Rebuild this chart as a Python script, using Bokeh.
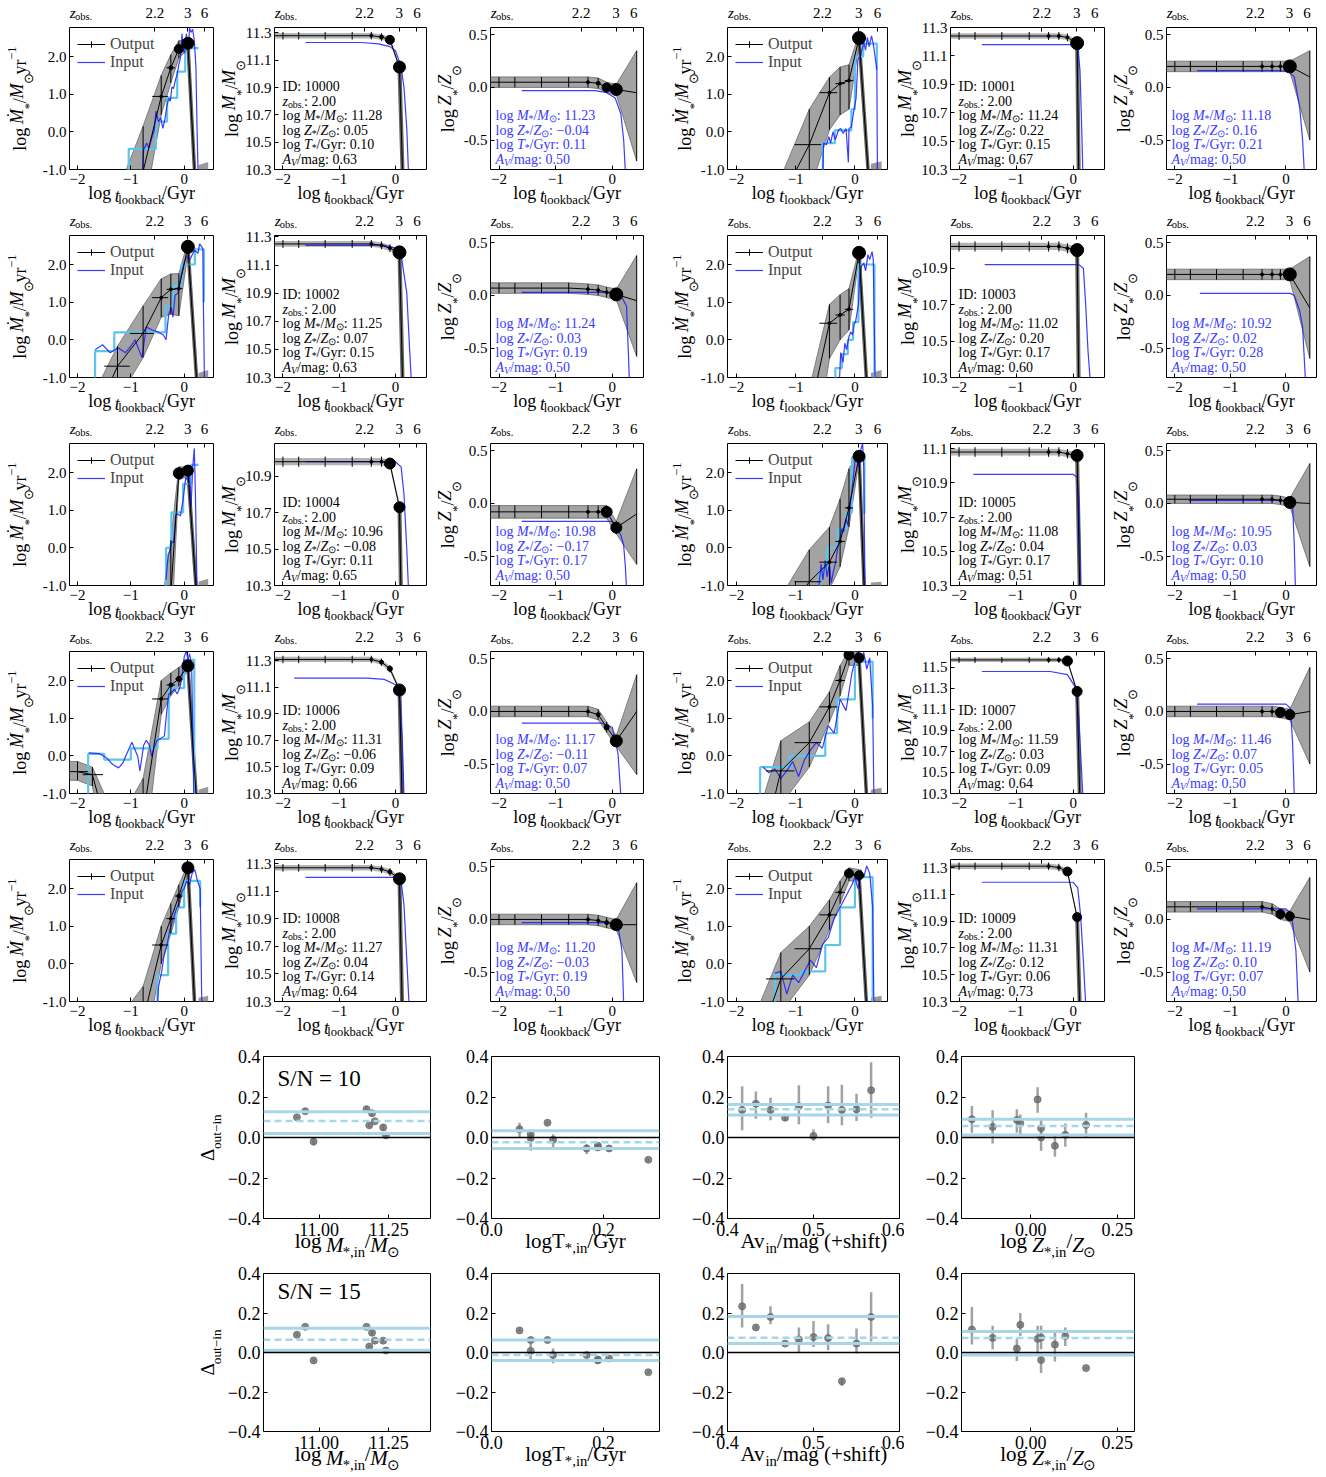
import math
from bokeh.plotting import figure
from bokeh.layouts import column, row
from bokeh.models import (Range1d, FixedTicker, LinearAxis, Label,
                          Legend, LegendItem, Spacer, Span)
from bokeh.embed import file_html
from bokeh.resources import INLINE

SERIF = "Liberation Serif"

# ---------------------------------------------------------------- data (top)
IDS = [10000, 10001, 10002, 10003, 10004, 10005, 10006, 10007, 10008, 10009]
Z_OBS = [2.00, 2.00, 2.00, 2.00, 2.00, 2.00, 2.00, 2.00, 2.00, 2.00]
OUT_M = [11.28, 11.24, 11.25, 11.02, 10.96, 11.08, 11.31, 11.59, 11.27, 11.31]
OUT_Z = [0.05, 0.22, 0.07, 0.20, -0.08, 0.04, -0.06, 0.03, 0.04, 0.12]
OUT_T = [0.10, 0.15, 0.15, 0.17, 0.11, 0.17, 0.09, 0.09, 0.14, 0.06]
OUT_AV = [0.63, 0.67, 0.63, 0.60, 0.65, 0.51, 0.66, 0.64, 0.64, 0.73]
IN_M = [11.23, 11.18, 11.24, 10.92, 10.98, 10.95, 11.17, 11.46, 11.20, 11.19]
IN_Z = [-0.04, 0.16, 0.03, 0.02, -0.17, 0.03, -0.11, 0.07, -0.03, 0.10]
IN_T = [0.11, 0.21, 0.19, 0.28, 0.17, 0.10, 0.07, 0.05, 0.19, 0.07]
IN_AV = [0.50, 0.50, 0.50, 0.50, 0.50, 0.50, 0.50, 0.50, 0.50, 0.50]

X_TICKS = [-2, -1, 0]
X_TICK_LABELS = ["\u22122", "\u22121", "0"]
Z_TICK_T = [-0.55, 0.065, 0.38]
Z_TICK_LABELS = ["2.2", "3", "6"]
SFR_YTICKS = [-1.0, 0.0, 1.0, 2.0]
MASS_YTICKS = [10.3, 10.5, 10.7, 10.9, 11.1, 11.3, 11.5]
Z_YTICKS = [-0.5, 0.0, 0.5]

T_OUT = [-2.0, -1.72, -1.25, -0.77, -0.43, -0.25, -0.10, 0.07]
T_ERR_L = [-2.15, -1.9, -1.5, -1.02, -0.6, -0.33, -0.17, -0.02]
T_ERR_R = [-1.8, -1.52, -1.02, -0.57, -0.3, -0.17, -0.03, 0.16]

SFR_MED = [
    [-4.0, -3.5, -2.5, -1.05, 0.94, 1.70, 2.20, 2.35],
    [-3.5, -3.0, -1.8, -0.34, 1.04, 1.28, 1.36, 2.49],
    [-3.0, -2.2, -0.70, 0.17, 1.12, 1.34, 1.36, 2.47],
    [-4.0, -3.5, -3.0, -2.0, 0.44, 0.66, 0.81, 2.31],
    [-5.0, -5.0, -4.5, -4.0, -3.0, -1.2, 1.98, 2.05],
    [-4.0, -3.5, -2.0, -0.9, -0.38, 0.17, 1.06, 2.43],
    [-0.42, -0.50, -3.0, -1.6, 1.51, 1.88, 2.04, 2.39],
    [-4.0, -3.5, -0.40, 0.35, 1.30, 2.00, 2.68, 2.60],
    [-4.0, -3.5, -2.5, -1.5, 0.50, 1.20, 1.80, 2.55],
    [-3.0, -2.5, -0.40, 0.40, 1.30, 1.90, 2.40, 2.35],
]
SFR_LO = [
    [-6, -6, -5, -2.2, 0.45, 1.3, 1.95, 2.2],
    [-6, -6, -4, -1.6, 0.05, 0.45, 0.6, 2.3],
    [-6, -5, -1.6, -0.47, 0.6, 0.68, 0.64, 2.3],
    [-6, -6, -6, -4, -0.5, 0.0, 0.26, 2.2],
    [-7, -7, -7, -6, -5, -2.5, 1.8, 1.9],
    [-6, -6, -4, -1.8, -1.1, -0.5, 0.55, 2.3],
    [-0.65, -0.8, -5, -3, 1.1, 1.6, 1.85, 2.3],
    [-6, -6, -1.3, -0.3, 0.9, 1.6, 2.4, 2.4],
    [-6, -6, -4, -2.5, 0.0, 0.8, 1.5, 2.4],
    [-5, -4, -1.3, -0.3, 0.9, 1.6, 2.2, 2.2],
]
SFR_HI = [
    [-3, -2.5, -1.6, 0.15, 1.5, 2.05, 2.42, 2.45],
    [-2.5, -2, -1.2, 0.6, 1.45, 1.72, 1.78, 2.6],
    [-2, -1.5, -0.17, 0.9, 1.62, 1.75, 1.76, 2.6],
    [-3, -2.5, -2, -1.3, 0.94, 1.2, 1.36, 2.4],
    [-4, -4, -3.5, -3, -1.6, 0.2, 2.15, 2.15],
    [-3, -2.5, -1.3, -0.05, 0.55, 1.3, 2.1, 2.55],
    [-0.15, -0.3, -1.8, -0.6, 2.0, 2.2, 2.35, 2.5],
    [-3, -2, 0.4, 0.9, 1.7, 2.4, 2.8, 2.75],
    [-3, -2.5, -1.5, -0.6, 1.0, 1.6, 2.1, 2.65],
    [-2, -1.5, 0.3, 1.0, 1.7, 2.2, 2.55, 2.5],
]
SFR_TAIL_T = [0.20, 0.23, 0.24, 0.20, 0.23, 0.16, 0.23, 0.20, 0.20, 0.20]
SFR_TAIL_Y = [-1.2, -1.2, -1.2, -1.2, -1.2, -1.2, -1.2, -1.2, -1.2, -1.2]
BLOB_T = [0.27, 0.45]
BLOB_BOT = [-1.1, -1.1]
BLOB_TOP_L = [-0.88, -0.85, -0.88, -0.88, -0.90, -0.92, -0.90, -0.90, -0.90, -0.90]
BLOB_TOP_R = [-0.80, -0.78, -0.80, -0.80, -0.82, -0.90, -0.82, -0.85, -0.85, -0.85]
DOT_SIZE = [
    [0, 0, 0, 0, 3, 4, 9, 12],
    [0, 0, 0, 0, 3, 3, 3, 13],
    [0, 0, 0, 0, 3, 3, 3, 13],
    [0, 0, 0, 0, 3, 3, 3, 13],
    [0, 0, 0, 0, 3, 3, 11, 11],
    [0, 0, 0, 0, 3, 3, 3, 12],
    [0, 0, 0, 0, 3, 4, 5, 12],
    [0, 0, 0, 0, 3, 3, 10, 10],
    [0, 0, 0, 0, 3, 3, 4, 12],
    [0, 0, 0, 0, 3, 3, 9, 9],
]

SFR_IN_T = [
    [-0.78, -0.76, -0.70, -0.66, -0.61, -0.56, -0.53, -0.48, -0.44, -0.40, -0.36, -0.33, -0.29, -0.26, -0.23, -0.20,
     -0.16, -0.13, -0.10, -0.07, -0.04, -0.02, 0.01, 0.04, 0.08, 0.10, 0.13, 0.16, 0.19, 0.22, 0.24, 0.26],
    [-0.54, -0.53, -0.48, -0.44, -0.41, -0.37, -0.33, -0.28, -0.24, -0.20, -0.15, -0.11, -0.10, -0.06, -0.02, 0.02,
     0.05, 0.08, 0.12, 0.15, 0.18, 0.21, 0.24, 0.28, 0.31, 0.34, 0.37, 0.38],
    [-1.67, -1.53, -1.39, -1.24, -1.10, -1.00, -0.92, -0.85, -0.79, -0.71, -0.60, -0.49, -0.39, -0.34, -0.29, -0.24,
     -0.21, -0.17, -0.12, -0.06, 0.00, 0.04, 0.11, 0.19, 0.26, 0.29, 0.35, 0.36, 0.38],
    [-0.26, -0.24, -0.20, -0.17, -0.14, -0.10, -0.07, -0.04, -0.01, 0.01, 0.06, 0.08, 0.11, 0.15, 0.18, 0.22, 0.25,
     0.29, 0.31, 0.34],
    [-0.34, -0.30, -0.27, -0.23, -0.20, -0.16, -0.13, -0.07, -0.02, 0.03, 0.07, 0.10, 0.13, 0.16, 0.19, 0.21, 0.24],
    [-0.61, -0.57, -0.54, -0.50, -0.47, -0.43, -0.40, -0.36, -0.33, -0.29, -0.26, -0.22, -0.19, -0.15, -0.12, -0.08,
     -0.05, -0.01, 0.02, 0.06, 0.09, 0.13, 0.15, 0.17],
    [-1.79, -1.59, -1.45, -1.34, -1.23, -1.15, -1.06, -0.98, -0.93, -0.87, -0.83, -0.76, -0.71, -0.65, -0.61, -0.57,
     -0.51, -0.45, -0.37, -0.33, -0.29, -0.24, -0.18, -0.13, -0.07, -0.03, 0.00, 0.04, 0.07, 0.10, 0.14, 0.16, 0.18],
    [-1.55, -1.45, -1.35, -1.25, -1.15, -1.05, -0.95, -0.85, -0.75, -0.65, -0.55, -0.45, -0.35, -0.25, -0.15, -0.05,
     0.00, 0.05, 0.10, 0.15, 0.20, 0.25, 0.30, 0.32],
    [-0.50, -0.48, -0.42, -0.38, -0.32, -0.27, -0.20, -0.15, -0.10, -0.05, 0.00, 0.05, 0.10, 0.15, 0.20, 0.25, 0.30,
     0.33],
    [-1.35, -1.25, -1.15, -1.05, -0.95, -0.85, -0.75, -0.65, -0.55, -0.45, -0.35, -0.25, -0.15, -0.05, 0.00, 0.05,
     0.10, 0.15, 0.20, 0.25, 0.30, 0.32],
]
SFR_IN_Y = [
    [-1.05, -0.47, -0.30, -0.43, -0.17, 0.04, 0.55, 0.26, 0.38, 0.09, 0.34, 0.64, 0.89, 0.81, 1.19, 1.15, 1.40, 1.53,
     1.79, 1.96, 2.60, 2.17, 2.09, 2.60, 2.20, 2.77, 2.64, 2.72, 2.43, 1.74, 0.21, -1.05],
    [-1.05, -0.30, -0.34, -0.13, -0.30, 0.00, -0.21, 0.04, 0.09, -0.04, 0.09, -0.81, 0.09, 0.13, 0.55, 0.89, 1.91,
     2.00, 2.17, 2.38, 2.17, 2.51, 2.26, 2.55, 2.34, 2.00, 1.66, -1.05],
    [-0.26, -0.13, -0.34, -0.21, -0.34, -0.17, 0.00, -0.26, -0.47, 0.34, 0.26, 0.21, 0.13, 0.00, 0.68, 0.85, 0.60,
     1.19, 1.23, 1.70, 2.04, 2.21, 2.13, 2.38, 2.30, 2.55, 2.43, 1.00, -1.05],
    [-1.05, -0.34, -0.60, -0.09, -0.26, 0.09, 0.21, 0.13, 0.43, 0.47, 0.94, 1.70, 1.96, 2.04, 1.83, 2.26, 2.13, 2.34,
     2.13, -1.05],
    [-0.85, -0.17, -0.10, 0.17, 0.13, 0.85, 0.90, 0.85, 1.28, 1.87, 1.79, 1.92, 1.10, 2.13, 2.64, 1.50, -1.05],
    [-1.05, -0.43, -0.85, -0.34, -0.77, -0.43, -0.94, -0.60, -0.43, 0.00, 0.17, 0.51, 0.43, 0.77, 0.60, 1.11, 1.53,
     2.13, 2.55, 2.13, 2.55, 2.77, 2.13, -1.05],
    [0.08, 0.06, -0.06, -0.23, -0.32, -0.19, 0.11, 0.36, 0.19, -0.02, -0.40, 0.28, 0.41, 0.28, -0.02, 0.19, 0.41,
     0.45, 0.53, 1.13, 1.64, 1.68, 1.77, 1.64, 1.86, 2.24, 2.62, 2.79, 2.54, 2.71, 2.41, 0.79, -1.05],
    [-0.30, -0.45, -0.35, -0.60, -0.40, -0.15, -0.55, -0.10, 0.15, 0.35, 0.20, 0.80, 0.60, 1.50, 1.20, 2.20, 2.50,
     2.80, 2.50, 2.75, 2.30, 2.60, 1.30, -1.05],
    [-1.05, -0.60, -0.20, 0.20, 0.50, 0.90, 1.20, 1.45, 1.60, 1.90, 2.00, 2.20, 2.10, 2.40, 2.50, 2.20, 2.00, -1.05],
    [-0.25, -0.20, -0.80, -0.30, -0.50, -0.20, 0.10, -0.10, 0.50, 0.70, 1.20, 1.50, 1.80, 2.10, 2.30, 2.00, 2.50,
     2.30, 2.60, 2.40, 1.50, -1.05],
]
STEP_EDGES = [
    [-1.04, -0.53, -0.32, -0.13, 0.02, 0.27],
    [-0.54, -0.34, -0.06, 0.00, 0.14, 0.37],
    [-1.67, -1.31, -0.35, -0.20, -0.05, 0.20, 0.37],
    [-0.33, -0.22, -0.12, -0.03, 0.06, 0.33],
    [-0.34, -0.24, -0.02, 0.12, 0.27],
    [-0.60, -0.47, -0.29, -0.15, -0.05, 0.16],
    [-1.80, -1.50, -1.00, -0.50, -0.29, 0.00, 0.19],
    [-1.60, -1.10, -0.50, -0.30, 0.00, 0.30],
    [-0.50, -0.30, -0.15, 0.00, 0.30],
    [-1.35, -0.90, -0.50, -0.25, 0.00, 0.30],
]
STEP_VALS = [
    [-0.45, 0.27, 0.90, 1.60, 2.22],
    [-0.30, 0.04, 0.60, 2.00, 2.34],
    [-0.30, 0.20, 0.90, 1.45, 2.00, 2.40],
    [-0.75, -0.38, 0.00, 0.47, 2.00],
    [0.00, 0.94, 1.70, 2.20],
    [-0.60, 0.00, 0.50, 0.94, 2.40],
    [0.05, -0.10, 0.20, 0.45, 1.80, 2.55],
    [-0.30, 0.00, 0.60, 1.50, 2.50],
    [-0.30, 0.80, 1.50, 2.20],
    [-0.30, -0.20, 0.50, 1.50, 2.30],
]
STEP_END = [2.22, 1.65, 1.00, -1.05, 2.20, 0.90, -1.05, 1.00, 1.50, -1.05]
STEP_FLOOR = -1.1

MASS_YMAX = [11.34, 11.30, 11.31, 11.08, 11.08, 11.13, 11.37, 11.65, 11.33, 11.36]
MASS_OUT = [
    [11.28, 11.28, 11.28, 11.28, 11.28, 11.27, 11.25, 11.05],
    [11.24, 11.24, 11.24, 11.24, 11.24, 11.24, 11.23, 11.19],
    [11.25, 11.25, 11.25, 11.25, 11.25, 11.24, 11.22, 11.19],
    [11.02, 11.02, 11.02, 11.02, 11.02, 11.02, 11.01, 11.00],
    [10.98, 10.98, 10.98, 10.98, 10.98, 10.98, 10.97, 10.73],
    [11.08, 11.08, 11.08, 11.08, 11.08, 11.08, 11.07, 11.06],
    [11.31, 11.31, 11.31, 11.31, 11.31, 11.29, 11.24, 11.08],
    [11.57, 11.57, 11.57, 11.57, 11.57, 11.57, 11.56, 11.27],
    [11.27, 11.27, 11.27, 11.27, 11.27, 11.26, 11.24, 11.19],
    [11.31, 11.31, 11.31, 11.31, 11.31, 11.30, 11.27, 10.93],
]
MASS_ERR = [0.02, 0.02, 0.02, 0.02, 0.02, 0.02, 0.02, 0.02, 0.02, 0.02]
MASS_DROP_T = [0.13, 0.10, 0.13, 0.10, 0.10, 0.12, 0.12, 0.12, 0.12, 0.12]
MASS_DROP_Y = [10.2, 10.2, 10.2, 10.2, 10.2, 10.2, 10.2, 10.2, 10.2, 10.2]
MASS_IN_T = [
    [-1.6, -0.6, -0.3, -0.1, 0.0, 0.1, 0.15, 0.2, 0.23],
    [-1.6, 0.0, 0.08, 0.12, 0.15, 0.17],
    [-1.6, -0.2, 0.0, 0.1, 0.2, 0.25, 0.28],
    [-1.55, 0.1, 0.18, 0.22, 0.26, 0.3],
    [-1.6, 0.0, 0.1, 0.15, 0.2, 0.23],
    [-1.75, 0.0, 0.07, 0.1, 0.12, 0.13],
    [-1.8, -0.5, -0.2, 0.0, 0.08, 0.12, 0.15],
    [-1.6, -0.4, -0.1, 0.05, 0.1, 0.14, 0.17],
    [-1.6, 0.0, 0.1, 0.15, 0.2, 0.24],
    [-1.6, 0.0, 0.08, 0.13, 0.18, 0.22],
]
MASS_IN_Y = [
    [11.23, 11.23, 11.22, 11.2, 11.17, 11.05, 10.9, 10.6, 10.28],
    [11.18, 11.18, 11.16, 11.0, 10.6, 10.28],
    [11.24, 11.24, 11.22, 11.17, 10.9, 10.5, 10.28],
    [10.92, 10.92, 10.9, 10.7, 10.45, 10.28],
    [10.98, 10.98, 10.95, 10.8, 10.5, 10.28],
    [10.95, 10.95, 10.93, 10.8, 10.5, 10.28],
    [11.17, 11.17, 11.16, 11.12, 11.0, 10.7, 10.28],
    [11.46, 11.46, 11.43, 11.3, 11.0, 10.6, 10.28],
    [11.20, 11.20, 11.17, 11.0, 10.6, 10.28],
    [11.19, 11.19, 11.15, 10.95, 10.6, 10.28],
]

Z_OUT = [
    [0.05, 0.05, 0.05, 0.05, 0.05, 0.04, 0.00, -0.02],
    [0.20, 0.20, 0.20, 0.20, 0.20, 0.20, 0.20, 0.20],
    [0.07, 0.07, 0.07, 0.07, 0.06, 0.05, 0.03, 0.01],
    [0.20, 0.20, 0.20, 0.20, 0.20, 0.20, 0.20, 0.20],
    [-0.08, -0.08, -0.08, -0.08, -0.08, -0.08, -0.08, -0.23],
    [0.04, 0.04, 0.04, 0.04, 0.04, 0.04, 0.03, 0.01],
    [0.00, 0.00, 0.00, 0.00, 0.00, -0.03, -0.15, -0.28],
    [0.00, 0.00, 0.00, 0.00, 0.00, 0.00, -0.01, -0.03],
    [0.00, 0.00, 0.00, 0.00, 0.00, -0.01, -0.03, -0.05],
    [0.12, 0.12, 0.12, 0.12, 0.12, 0.10, 0.05, 0.03],
]
Z_END_T = 0.43
Z_END = [-0.05, 0.10, -0.05, -0.12, -0.10, 0.00, 0.00, 0.00, -0.05, 0.00]
Z_ERR = [0.05, 0.05, 0.05, 0.05, 0.06, 0.04, 0.05, 0.05, 0.05, 0.05]
Z_CONE_LO = [-0.70, -0.50, -0.58, -0.60, -0.58, -0.60, -0.60, -0.50, -0.60, -0.50]
Z_CONE_HI = [0.35, 0.35, 0.38, 0.37, 0.33, 0.38, 0.35, 0.42, 0.35, 0.40]
Z_IN_T = [
    [-1.6, -0.3, -0.1, 0.05, 0.15, 0.2, 0.23],
    [-1.6, -0.1, 0.05, 0.15, 0.25, 0.3, 0.33],
    [-1.6, 0.0, 0.15, 0.25, 0.28, 0.3],
    [-1.55, 0.08, 0.15, 0.25, 0.3, 0.35],
    [-1.6, 0.0, 0.15, 0.2, 0.23, 0.25],
    [-1.75, 0.05, 0.12, 0.15, 0.17],
    [-1.6, -0.2, 0.0, 0.1, 0.15],
    [-1.6, 0.0, 0.08, 0.12, 0.15],
    [-1.6, 0.0, 0.1, 0.17, 0.2],
    [-1.6, 0.0, 0.1, 0.18, 0.22],
]
Z_IN_Y = [
    [-0.03, -0.03, -0.05, -0.1, -0.25, -0.5, -0.8],
    [0.16, 0.16, 0.15, 0.1, -0.2, -0.5, -0.8],
    [0.03, 0.03, 0.0, -0.1, -0.5, -0.8],
    [0.02, 0.02, 0.0, -0.15, -0.3, -0.8],
    [-0.17, -0.17, -0.3, -0.4, -0.6, -0.8],
    [0.03, 0.03, 0.0, -0.4, -0.8],
    [-0.11, -0.11, -0.15, -0.4, -0.8],
    [0.07, 0.07, 0.03, -0.3, -0.8],
    [-0.03, -0.03, -0.06, -0.3, -0.8],
    [0.10, 0.10, 0.05, -0.3, -0.8],
]

# ---------------------------------------------------------------- data (bottom)
AV_X = [0.417, 0.433, 0.450, 0.467, 0.483, 0.500, 0.517, 0.533, 0.550, 0.567]
DM10 = [0.05, 0.06, 0.01, 0.10, -0.02, 0.13, 0.14, 0.13, 0.08, 0.12]
DM10_LO = [0.035, 0.05, 0.005, 0.095, -0.04, 0.12, 0.125, 0.12, 0.07, 0.105]
DM10_HI = [0.065, 0.07, 0.015, 0.105, 0.0, 0.14, 0.155, 0.14, 0.09, 0.135]
DT10 = [-0.011, -0.054, -0.041, -0.11, -0.054, 0.073, 0.016, 0.041, -0.049, -0.003]
DT10_LO = [-0.052, -0.065, -0.05, -0.118, -0.082, 0.066, -0.016, 0.0, -0.058, -0.065]
DT10_HI = [0.016, -0.043, -0.032, -0.102, -0.033, 0.08, 0.04, 0.073, -0.04, 0.033]
DA10 = [0.136, 0.167, 0.136, 0.098, 0.155, 0.008, 0.158, 0.136, 0.139, 0.233]
DA10_LO = [0.036, 0.093, 0.085, 0.082, 0.065, -0.016, 0.07, 0.06, 0.082, 0.098]
DA10_HI = [0.253, 0.227, 0.196, 0.114, 0.258, 0.04, 0.253, 0.261, 0.216, 0.372]
DZ10 = [0.087, 0.062, 0.046, 0.188, 0.09, 0.0, 0.052, -0.041, 0.07, 0.013]
DZ10_LO = [0.024, 0.0, -0.016, 0.122, 0.024, -0.065, -0.03, -0.095, 0.008, -0.046]
DZ10_HI = [0.139, 0.122, 0.09, 0.248, 0.155, 0.033, 0.134, 0.013, 0.114, 0.069]

DM15 = [0.06, 0.03, 0.01, 0.09, -0.04, 0.13, 0.13, 0.12, 0.06, 0.10]
DM15_LO = [0.052, 0.022, 0.003, 0.082, -0.05, 0.122, 0.122, 0.112, 0.052, 0.085]
DM15_HI = [0.068, 0.038, 0.017, 0.098, -0.03, 0.138, 0.138, 0.128, 0.068, 0.115]
DT15 = [-0.013, -0.03, -0.04, -0.10, -0.013, 0.063, 0.008, 0.112, -0.035, 0.063]
DT15_LO = [-0.054, -0.038, -0.048, -0.108, -0.021, 0.055, -0.038, 0.104, -0.043, 0.051]
DT15_HI = [0.02, -0.022, -0.032, -0.092, -0.005, 0.071, 0.045, 0.12, -0.027, 0.075]
DA15 = [0.234, 0.127, 0.18, 0.045, 0.066, 0.078, 0.073, -0.145, 0.045, 0.18]
DA15_LO = [0.127, 0.12, 0.143, 0.04, 0.0, 0.028, 0.012, -0.17, -0.005, 0.056]
DA15_HI = [0.347, 0.135, 0.234, 0.05, 0.127, 0.16, 0.143, -0.13, 0.122, 0.305]
DZ15 = [0.02, -0.079, 0.076, 0.069, 0.116, -0.038, 0.074, 0.04, 0.14, 0.083]
DZ15_LO = [-0.043, -0.085, 0.017, -0.005, 0.04, -0.104, 0.017, -0.046, 0.083, 0.033]
DZ15_HI = [0.069, -0.073, 0.135, 0.135, 0.231, -0.005, 0.135, 0.099, 0.2, 0.127]

HL10 = [[0.02, 0.082, 0.127], [-0.054, -0.024, 0.033], [0.111, 0.139, 0.163], [0.012, 0.057, 0.09]]
HL15 = [[0.012, 0.065, 0.123], [-0.04, -0.013, 0.063], [0.045, 0.075, 0.182], [-0.013, 0.073, 0.106]]
SN_LABELS = ["S/N = 10", "S/N = 15"]

BOT_XR = [(10.8, 11.4), (0.0, 0.3), (0.4, 0.6), (-0.2, 0.3)]
BOT_XTICKS = [[11.0, 11.25], [0.0, 0.2], [0.4, 0.5, 0.6], [0.0, 0.25]]
BOT_XLABELS = [["11.00", "11.25"], ["0.0", "0.2"], ["0.4", "0.5", "0.6"], ["0.00", "0.25"]]
BOT_YTICKS = [-0.4, -0.2, 0.0, 0.2, 0.4]
BOT_YLABELS = ["\u22120.4", "\u22120.2", "0.0", "0.2", "0.4"]

# ---------------------------------------------------------------- styles / geometry
BAND = "#808080"
DROP = "#4a4a4a"
BLUE = "#1a1aff"
LBLUE = "#5cc4ee"
TXTBLUE = "#3a3aff"
HLCOL = "#a6d6e8"

LEFT_PAD = 4
TOP_PAD = 1
TOP_W = [212, 216, 216, 244, 216, 210]
TOP_BL = [56, 47, 50, 79, 48, 47]
TOP_BR = [3, 6, 5, 5, 4, 2]
TOP_H, TOP_BT, TOP_BB = 208, 26, 35
XR_TOP = (-2.15, 0.55)
SFR_YR = (-1.0, 2.77)
Z_YR = (-0.78, 0.57)
SFR_YLAB_B = [37, 0, 0, 30, 0, 0]
MASS_YLAB_B = 30
Z_YLAB_B = 30

BOT_PAD = 194
BOT_W = [242, 230, 238, 237]
BOT_BL = [63, 55, 61, 57]
BOT_BR = [6, 7, 5, 7]
BOT_ROWS = [(224, 15, 47), (210, 8, 40)]

ASC, DESC, HF = 0.89, 0.22, 1.11
TOP_C_MAIN, TOP_C_SUB = 7.75, 0.5
BOT_C_MAIN, BOT_C_SUB = 4.0, 0.0

# Times / Liberation Serif advance widths (per 1000 em)
W_R = {' ': 250, '!': 333, '(': 333, ')': 333, '*': 500, '+': 564, ',': 250, '-': 333, '.': 250, '/': 278,
       '0': 500, '1': 500, '2': 500, '3': 500, '4': 500, '5': 500, '6': 500, '7': 500, '8': 500, '9': 500,
       ':': 278, '=': 564, 'A': 722, 'D': 722, 'G': 722, 'I': 333, 'M': 889, 'N': 722, 'S': 556, 'T': 611,
       'V': 722, 'Z': 611, 'a': 444, 'b': 500, 'c': 444, 'd': 500, 'e': 444, 'f': 333, 'g': 500, 'h': 500,
       'i': 278, 'k': 500, 'l': 278, 'm': 778, 'n': 500, 'o': 500, 'r': 333, 's': 389, 't': 278, 'u': 500,
       'v': 500, 'y': 500, 'z': 444, '\u2212': 564, '\u2299': 800, '\u0394': 612, '\u1e40': 889}
W_I = {'M': 833, 'Z': 556, 'T': 556, 't': 278, 'z': 389, 'A': 611, 'V': 611, '\u1e40': 833}


def jsround(x):
    return int(math.floor(x + 0.5))


def text_w(s, fs, ital=False):
    tbl = W_I if ital else W_R
    return sum(tbl.get(c, W_R.get(c, 500)) for c in s) / 1000.0 * fs


def measure(parts, size):
    segs, total = [], 0.0
    for txt, kind in parts:
        small = kind in ("s", "si", "S")
        fs = size * 0.7 if small else size
        ital = kind in ("i", "si")
        w = text_w(txt, fs, ital)
        segs.append((txt, kind, fs, ital, w))
        total += w
    return segs, total


def rich(p, x, y, parts, size, color="black"):
    """Text inside the frame (screen units relative to the frame)."""
    segs, total = measure(parts, size)
    off = 0.0
    for txt, kind, fs, ital, w in segs:
        d = -0.22 * size if kind in ("s", "si") else (0.38 * size if kind == "S" else 0.0)
        p.add_layout(Label(x=x + off, y=y + d, x_units="screen", y_units="screen", text=txt,
                           text_font=SERIF, text_font_size="%.1fpx" % fs,
                           text_font_style="italic" if ital else "normal",
                           text_color=color, text_align="left", text_baseline="alphabetic"))
        off += w


# ---- text outside the frame: carried by tick labels of stacked side axes
def new_sides():
    return {"below": [], "left": [], "above": []}


def add_group(sides, side, ticks, labels, fs, ital, color, anchor, extent, orient, rank=0):
    sides[side].append(dict(ticks=ticks, labels=labels, fs=fs, ital=ital, color=color,
                            anchor=anchor, extent=extent, orient=orient, rank=rank))


def add_ticklabels(sides, side, ticks, labels, fs, standoff):
    extent = max(text_w(l, fs) for l in labels) if side == "left" else HF * fs
    add_group(sides, side, list(ticks), list(labels), fs, False, "black", standoff, extent, "horizontal", 0)


def add_rich_side(sides, side, parts, size, center_px, base_px, flen, rng, color="black",
                  sub_bl=None, c_main=0.0, c_sub=0.0):
    segs, total = measure(parts, size)
    start = center_px - total / 2.0
    off = 0.0
    groups = {}
    for txt, kind, fs, ital, w in segs:
        mid = start + off + w / 2.0
        off += w
        if kind in ("s", "si"):
            shift = 0.22 * size if side == "below" else -0.22 * size
            bl = sub_bl if sub_bl is not None else base_px + shift
            c = c_sub
            rank = 3
        elif kind == "S":
            shift = -0.38 * size if side == "below" else 0.38 * size
            bl = base_px + shift
            c = c_sub
            rank = 3
        else:
            bl = base_px
            c = c_main
            rank = 2 if ital else 1
        if side != "below":
            rank = 0
        anchor = (bl - ASC * fs if side == "below" else bl - DESC * fs) + c
        pos = round(rng[0] + mid / flen * (rng[1] - rng[0]), 6)
        key = (round(fs, 2), ital, round(anchor, 2), rank)
        groups.setdefault(key, ([], []))
        groups[key][0].append(pos)
        groups[key][1].append(txt)
    for (fs, ital, anchor, rank), (ticks, labels) in groups.items():
        add_group(sides, side, ticks, labels, fs, ital, color, anchor, HF * fs,
                  "parallel" if side == "left" else "horizontal", rank)


def finalize(p, sides, tick_ticks):
    for side in ("below", "left", "above"):
        if tick_ticks.get(side):
            ta = LinearAxis(ticker=FixedTicker(ticks=tick_ticks[side], minor_ticks=[]))
            ta.major_label_text_color = None
            ta.axis_line_color = None
            ta.major_tick_in = 4
            ta.major_tick_out = 0
            ta.minor_tick_in = 0
            ta.minor_tick_out = 0
            ta.major_tick_line_color = "black"
            p.add_layout(ta, side)
        cum = 0
        for g in sorted(sides[side], key=lambda q: (q["rank"], q["anchor"] + q["extent"])):
            so = jsround(g["anchor"] - cum)
            ax = LinearAxis(ticker=FixedTicker(ticks=g["ticks"], minor_ticks=[]),
                            major_label_overrides=dict(zip(g["ticks"], g["labels"])),
                            major_label_orientation=g["orient"])
            ax.axis_line_color = None
            ax.major_tick_line_color = None
            ax.minor_tick_line_color = None
            ax.major_tick_in = 0
            ax.major_tick_out = 0
            ax.minor_tick_in = 0
            ax.minor_tick_out = 0
            ax.major_label_standoff = so
            ax.major_label_text_font = SERIF
            ax.major_label_text_font_size = "%.1fpx" % g["fs"]
            ax.major_label_text_font_style = "italic" if g["ital"] else "normal"
            ax.major_label_text_color = g["color"]
            p.add_layout(ax, side)
            cum += jsround(so + g["extent"])


def fmt(v):
    return ("%.2f" % v).replace("-", "\u2212")


def mkfig(w, h, bl, br, bt, bb, xr, yr):
    p = figure(width=w, height=h, x_range=Range1d(*xr), y_range=Range1d(*yr),
               x_axis_type=None, y_axis_type=None, output_backend="svg", toolbar_location=None,
               min_border_left=bl, min_border_right=br, min_border_top=bt, min_border_bottom=bb)
    p.outline_line_color = "black"
    p.outline_line_alpha = 1.0
    p.outline_line_width = 1
    p.background_fill_color = "white"
    p.border_fill_color = "white"
    return p


XPARTS = [("log ", "n"), ("t", "i"), ("lookback", "s"), ("/Gyr", "n")]
ZOBS = [("z", "i"), ("obs.", "s")]
SFR_YPARTS = [("log ", "n"), ("\u1e40", "i"), ("*", "s"), ("/", "n"), ("M", "i"), ("\u2299", "s"),
              ("yr", "n"), ("\u22121", "S")]
MASS_YPARTS = [("log ", "n"), ("M", "i"), ("*", "s"), ("/", "n"), ("M", "i"), ("\u2299", "s")]
Z_YPARTS = [("log ", "n"), ("Z", "i"), ("*", "s"), ("/", "n"), ("Z", "i"), ("\u2299", "s")]


def top_text(p, fw, fh, yr, yticks, ylab_b, yparts):
    sides = new_sides()
    yt = [t for t in yticks if yr[0] - 1e-9 <= t <= yr[1] + 1e-9]
    add_ticklabels(sides, "below", X_TICKS, X_TICK_LABELS, 15, 4)
    add_ticklabels(sides, "left", yt, ["%.1f" % t for t in yt], 15, 3)
    add_ticklabels(sides, "above", Z_TICK_T, Z_TICK_LABELS, 15, 8)
    add_rich_side(sides, "left", yparts, 18, fh / 2.0, ylab_b, fh, yr)
    add_rich_side(sides, "below", XPARTS, 18, fw / 2.0, 25.5, fw, XR_TOP, sub_bl=31.5,
                  c_main=TOP_C_MAIN, c_sub=TOP_C_SUB)
    add_rich_side(sides, "above", ZOBS, 15, 12.0, 8, fw, XR_TOP, c_main=4, c_sub=4)
    finalize(p, sides, {"below": X_TICKS, "left": yt, "above": Z_TICK_T})


def step_path(edges, vals, end, floor):
    xs, ys = [edges[0]], [floor]
    for i, v in enumerate(vals):
        xs += [edges[i], edges[i + 1]]
        ys += [v, v]
    xs.append(edges[-1])
    ys.append(end)
    return xs, ys


def sfr_panel(g, col):
    w, bl, br = TOP_W[col], TOP_BL[col], TOP_BR[col]
    fw, fh = w - bl - br, TOP_H - TOP_BT - TOP_BB
    p = mkfig(w, TOP_H, bl, br, TOP_BT, TOP_BB, XR_TOP, SFR_YR)
    bx = [XR_TOP[0]] + T_OUT
    p.varea(x=bx, y1=[SFR_LO[g][0]] + SFR_LO[g], y2=[SFR_HI[g][0]] + SFR_HI[g],
            fill_color=BAND, fill_alpha=0.72)
    p.line(bx, [SFR_HI[g][0]] + SFR_HI[g], line_color="#6a6a6a", line_width=0.8)
    p.line(bx, [SFR_LO[g][0]] + SFR_LO[g], line_color="#6a6a6a", line_width=0.8)
    p.varea(x=BLOB_T, y1=BLOB_BOT, y2=[BLOB_TOP_L[g], BLOB_TOP_R[g]], fill_color=BAND, fill_alpha=0.8)
    p.line([T_OUT[-1], SFR_TAIL_T[g]], [SFR_MED[g][-1], SFR_TAIL_Y[g]], line_color=DROP,
           line_width=3.5, line_alpha=0.9)
    sx, sy = step_path(STEP_EDGES[g], STEP_VALS[g], STEP_END[g], STEP_FLOOR)
    p.line(sx, sy, line_color=LBLUE, line_width=2.2)
    r_in = p.line(SFR_IN_T[g], SFR_IN_Y[g], line_color=BLUE, line_width=1.2, line_alpha=0.85)
    r_out = p.line(T_OUT + [SFR_TAIL_T[g]], SFR_MED[g] + [SFR_TAIL_Y[g]], line_color="black", line_width=1)
    p.segment(x0=T_OUT, y0=SFR_LO[g], x1=T_OUT, y1=SFR_HI[g], line_color="black", line_width=1)
    p.segment(x0=T_ERR_L, y0=SFR_MED[g], x1=T_ERR_R, y1=SFR_MED[g], line_color="black", line_width=1)
    p.scatter(T_OUT, SFR_MED[g], size=DOT_SIZE[g], color="black")
    r_cross = p.scatter(T_OUT, SFR_MED[g], marker="cross", size=0, line_color="black", line_width=1)
    leg = Legend(items=[LegendItem(label="Output", renderers=[r_out, r_cross]),
                        LegendItem(label="Input", renderers=[r_in])],
                 location="top_left", margin=6, padding=2, glyph_width=28, glyph_height=16,
                 label_height=16, spacing=0, label_standoff=5, border_line_alpha=0,
                 background_fill_alpha=0, label_text_font=SERIF, label_text_font_size="16px")
    p.add_layout(leg)
    top_text(p, fw, fh, SFR_YR, SFR_YTICKS, SFR_YLAB_B[col], SFR_YPARTS)
    return p


def mass_panel(g, col):
    w, bl, br = TOP_W[col], TOP_BL[col], TOP_BR[col]
    fw, fh = w - bl - br, TOP_H - TOP_BT - TOP_BB
    yr = (10.3, MASS_YMAX[g])
    p = mkfig(w, TOP_H, bl, br, TOP_BT, TOP_BB, XR_TOP, yr)
    bx = [XR_TOP[0]] + T_OUT
    my = [MASS_OUT[g][0]] + MASS_OUT[g]
    e = MASS_ERR[g]
    p.varea(x=bx, y1=[v - e for v in my], y2=[v + e for v in my], fill_color=BAND, fill_alpha=0.6)
    p.line([T_OUT[-1], MASS_DROP_T[g]], [MASS_OUT[g][-1], MASS_DROP_Y[g]], line_color=DROP,
           line_width=4, line_alpha=0.85)
    p.line(MASS_IN_T[g], MASS_IN_Y[g], line_color=BLUE, line_width=1.2, line_alpha=0.85)
    p.line(bx + [MASS_DROP_T[g]], my + [MASS_DROP_Y[g]], line_color="black", line_width=1)
    p.segment(x0=T_OUT, y0=[v - 1.4 * e for v in MASS_OUT[g]], x1=T_OUT,
              y1=[v + 1.4 * e for v in MASS_OUT[g]], line_color="black", line_width=1)
    p.scatter(T_OUT, MASS_OUT[g], size=DOT_SIZE[g], color="black")
    top_text(p, fw, fh, yr, MASS_YTICKS, MASS_YLAB_B, MASS_YPARTS)
    ys = [83, 68.5, 54, 39.5, 25, 10.5]
    rich(p, 8, ys[0], [("ID: %d" % IDS[g], "n")], 14)
    rich(p, 8, ys[1], [("z", "i"), ("obs.", "s"), (" : %.2f" % Z_OBS[g], "n")], 14)
    rich(p, 8, ys[2], [("log ", "n"), ("M", "i"), ("*", "s"), ("/", "n"), ("M", "i"), ("\u2299", "s"),
                       (" : " + fmt(OUT_M[g]), "n")], 14)
    rich(p, 8, ys[3], [("log ", "n"), ("Z", "i"), ("*", "s"), ("/", "n"), ("Z", "i"), ("\u2299", "s"),
                       (" : " + fmt(OUT_Z[g]), "n")], 14)
    rich(p, 8, ys[4], [("log ", "n"), ("T", "i"), ("*", "s"), ("/Gyr: " + fmt(OUT_T[g]), "n")], 14)
    rich(p, 8, ys[5], [("A", "i"), ("V", "si"), ("/mag: " + fmt(OUT_AV[g]), "n")], 14)
    return p


def z_panel(g, col):
    w, bl, br = TOP_W[col], TOP_BL[col], TOP_BR[col]
    fw, fh = w - bl - br, TOP_H - TOP_BT - TOP_BB
    p = mkfig(w, TOP_H, bl, br, TOP_BT, TOP_BB, XR_TOP, Z_YR)
    e = Z_ERR[g]
    bx = [XR_TOP[0]] + T_OUT + [Z_END_T]
    zl = [Z_OUT[g][0] - e] + [v - e for v in Z_OUT[g]] + [Z_CONE_LO[g]]
    zh = [Z_OUT[g][0] + e] + [v + e for v in Z_OUT[g]] + [Z_CONE_HI[g]]
    p.varea(x=bx, y1=zl, y2=zh, fill_color=BAND, fill_alpha=0.72)
    p.line(bx, zl, line_color="#6a6a6a", line_width=0.8)
    p.line(bx, zh, line_color="#6a6a6a", line_width=0.8)
    p.line(Z_IN_T[g], Z_IN_Y[g], line_color=BLUE, line_width=1.2, line_alpha=0.85)
    p.line(bx, [Z_OUT[g][0]] + Z_OUT[g] + [Z_END[g]], line_color="black", line_width=1)
    p.segment(x0=T_OUT + [Z_END_T], y0=[v - e for v in Z_OUT[g]] + [Z_CONE_LO[g]],
              x1=T_OUT + [Z_END_T], y1=[v + e for v in Z_OUT[g]] + [Z_CONE_HI[g]],
              line_color="black", line_width=1)
    p.scatter(T_OUT, Z_OUT[g], size=DOT_SIZE[g], color="black")
    top_text(p, fw, fh, Z_YR, Z_YTICKS, Z_YLAB_B, Z_YPARTS)
    ys = [54, 39.5, 25, 10.5]
    rich(p, 5, ys[0], [("log ", "n"), ("M", "i"), ("*", "s"), ("/", "n"), ("M", "i"), ("\u2299", "s"),
                       (" : " + fmt(IN_M[g]), "n")], 14, color=TXTBLUE)
    rich(p, 5, ys[1], [("log ", "n"), ("Z", "i"), ("*", "s"), ("/", "n"), ("Z", "i"), ("\u2299", "s"),
                       (" : " + fmt(IN_Z[g]), "n")], 14, color=TXTBLUE)
    rich(p, 5, ys[2], [("log ", "n"), ("T", "i"), ("*", "s"), ("/Gyr: " + fmt(IN_T[g]), "n")], 14,
         color=TXTBLUE)
    rich(p, 5, ys[3], [("A", "i"), ("V", "si"), ("/mag: " + fmt(IN_AV[g]), "n")], 14, color=TXTBLUE)
    return p


BOT_XPARTS = [
    [("log ", "n"), ("M", "i"), ("*,in", "s"), ("/", "n"), ("M", "i"), ("\u2299", "s")],
    [("logT", "n"), ("*,in", "s"), ("/Gyr", "n")],
    [("Av", "n"), ("in", "s"), ("/mag (+shift)", "n")],
    [("log ", "n"), ("Z", "i"), ("*,in", "s"), ("/", "n"), ("Z", "i"), ("\u2299", "s")],
]
BOT_X = [IN_M, IN_T, AV_X, IN_Z]
BOT_D = [[DM10, DT10, DA10, DZ10], [DM15, DT15, DA15, DZ15]]
BOT_LO = [[DM10_LO, DT10_LO, DA10_LO, DZ10_LO], [DM15_LO, DT15_LO, DA15_LO, DZ15_LO]]
BOT_HI = [[DM10_HI, DT10_HI, DA10_HI, DZ10_HI], [DM15_HI, DT15_HI, DA15_HI, DZ15_HI]]
BOT_HL = [HL10, HL15]


def bottom_panel(k, ri):
    w, bl, br = BOT_W[k], BOT_BL[k], BOT_BR[k]
    h, bt, bb = BOT_ROWS[ri]
    fw, fh = w - bl - br, h - bt - bb
    yr = (-0.4, 0.4)
    p = mkfig(w, h, bl, br, bt, bb, BOT_XR[k], yr)
    lo, med, hi = BOT_HL[ri][k]
    p.add_layout(Span(location=lo, dimension="width", line_color=HLCOL, line_width=3))
    p.add_layout(Span(location=hi, dimension="width", line_color=HLCOL, line_width=3))
    p.add_layout(Span(location=med, dimension="width", line_color=HLCOL, line_width=2.5,
                      line_dash="7 4"))
    p.add_layout(Span(location=0.0, dimension="width", line_color="black", line_width=1.6))
    xs = BOT_X[k]
    p.segment(x0=xs, y0=BOT_LO[ri][k], x1=xs, y1=BOT_HI[ri][k], line_color="#7a7a7a",
              line_alpha=0.7, line_width=2.5)
    p.scatter(xs, BOT_D[ri][k], size=7, fill_color="#6a6a6a", line_color="#6a6a6a", fill_alpha=0.8,
              line_alpha=0.8)
    sides = new_sides()
    add_ticklabels(sides, "below", BOT_XTICKS[k], BOT_XLABELS[k], 18, 4)
    add_ticklabels(sides, "left", BOT_YTICKS, BOT_YLABELS, 18, 3)
    add_rich_side(sides, "below", BOT_XPARTS[k], 21, fw / 2.0, 29, fw, BOT_XR[k],
                  c_main=BOT_C_MAIN, c_sub=BOT_C_SUB)
    if k == 0:
        add_rich_side(sides, "left", [("\u0394", "n"), ("out\u2212in", "s")], 19, fh / 2.0, 43, fh, yr)
        rich(p, 14, fh - 22, [(SN_LABELS[ri], "n")], 23)
    finalize(p, sides, {"below": BOT_XTICKS[k], "left": BOT_YTICKS})
    return p


rows = [Spacer(width=LEFT_PAD, height=TOP_PAD)]
for r in range(5):
    figs = [Spacer(width=LEFT_PAD, height=TOP_H)]
    for half in range(2):
        g = 2 * r + half
        c0 = 3 * half
        figs.append(sfr_panel(g, c0))
        figs.append(mass_panel(g, c0 + 1))
        figs.append(z_panel(g, c0 + 2))
    rows.append(row(*figs))
for ri in range(2):
    rows.append(row(Spacer(width=BOT_PAD, height=BOT_ROWS[ri][0]),
                    *[bottom_panel(k, ri) for k in range(4)]))

layout = column(*rows)
open("out.html", "w").write(file_html(layout, INLINE, "SED fits"))
